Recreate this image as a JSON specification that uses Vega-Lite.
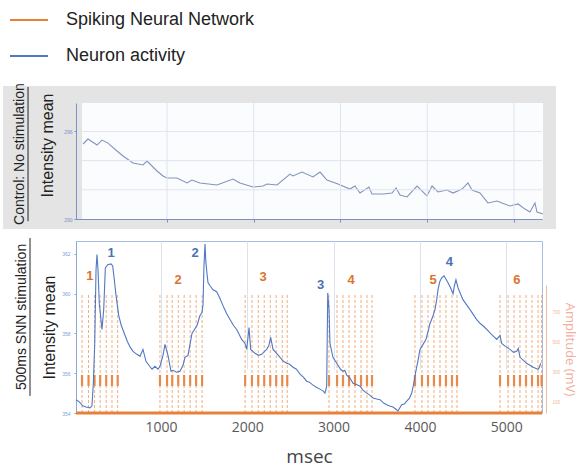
{
  "$schema": "https://vega.github.io/schema/vega-lite/v6.json",
  "padding": {"left": 3, "top": 0, "right": 8, "bottom": 0},
  "spacing": 7,
  "config": {"font": "Liberation Sans", "view": {"stroke": null}},
  "datasets": {
    "control": [
      {"t":32,"v":295.14},{"t":89,"v":295.48},{"t":193,"v":295.07},{"t":251,"v":295.41},{"t":320,"v":295.2},{"t":424,"v":294.66},{"t":493,"v":294.32},{"t":608,"v":293.84},{"t":723,"v":293.7},{"t":770,"v":293.97},{"t":885,"v":293.29},{"t":954,"v":292.95},{"t":1000,"v":292.81},{"t":1115,"v":292.81},{"t":1231,"v":292.47},{"t":1288,"v":292.67},{"t":1380,"v":292.47},{"t":1576,"v":292.33},{"t":1761,"v":292.74},{"t":1841,"v":292.47},{"t":1991,"v":292.19},{"t":2107,"v":292.26},{"t":2153,"v":292.4},{"t":2268,"v":292.33},{"t":2418,"v":293.08},{"t":2452,"v":292.95},{"t":2556,"v":293.22},{"t":2683,"v":292.88},{"t":2764,"v":293.22},{"t":2844,"v":292.67},{"t":2971,"v":292.4},{"t":3109,"v":292.05},{"t":3167,"v":292.26},{"t":3225,"v":291.78},{"t":3328,"v":292.19},{"t":3363,"v":291.71},{"t":3490,"v":291.71},{"t":3594,"v":291.78},{"t":3640,"v":292.12},{"t":3686,"v":291.64},{"t":3767,"v":291.51},{"t":3882,"v":292.26},{"t":3997,"v":291.58},{"t":4055,"v":292.26},{"t":4124,"v":291.85},{"t":4228,"v":291.99},{"t":4297,"v":291.78},{"t":4401,"v":292.05},{"t":4470,"v":292.47},{"t":4516,"v":291.99},{"t":4608,"v":291.78},{"t":4700,"v":291.1},{"t":4804,"v":291.23},{"t":4862,"v":291.1},{"t":4954,"v":290.89},{"t":5046,"v":291.03},{"t":5127,"v":290.68},{"t":5184,"v":290.48},{"t":5242,"v":291.1},{"t":5265,"v":290.48},{"t":5334,"v":290.34}
    ],
    "ctrlGridX": [{"t":1000},{"t":2000},{"t":3000},{"t":4000},{"t":5000}],
    "ctrlGridY": [{"v":292},{"v":294},{"v":296}],
    "activity": [
      {"t":15,"v":354.67},{"t":53,"v":354.56},{"t":93,"v":354.36},{"t":131,"v":354.3},{"t":177,"v":354.26},{"t":200,"v":354.36},{"t":216,"v":355.5},{"t":232,"v":357.5},{"t":247,"v":361.2},{"t":258,"v":361.97},{"t":270,"v":361.2},{"t":285,"v":359.5},{"t":316,"v":358.2},{"t":336,"v":359.2},{"t":355,"v":361.3},{"t":382,"v":361.46},{"t":421,"v":361.5},{"t":440,"v":361.4},{"t":459,"v":360.7},{"t":479,"v":359.9},{"t":510,"v":358.9},{"t":540,"v":358.4},{"t":575,"v":358.0},{"t":610,"v":357.6},{"t":645,"v":357.3},{"t":676,"v":357.1},{"t":720,"v":356.95},{"t":757,"v":356.85},{"t":791,"v":357.2},{"t":826,"v":356.6},{"t":860,"v":356.4},{"t":896,"v":356.2},{"t":930,"v":356.35},{"t":965,"v":356.2},{"t":988,"v":356.35},{"t":1023,"v":356.9},{"t":1046,"v":357.45},{"t":1081,"v":356.9},{"t":1116,"v":356.1},{"t":1139,"v":356.15},{"t":1180,"v":356.05},{"t":1220,"v":356.1},{"t":1255,"v":356.4},{"t":1278,"v":356.8},{"t":1313,"v":356.9},{"t":1359,"v":358.0},{"t":1417,"v":358.4},{"t":1452,"v":358.9},{"t":1475,"v":359.05},{"t":1487,"v":359.45},{"t":1498,"v":361.4},{"t":1510,"v":362.5},{"t":1520,"v":361.6},{"t":1533,"v":361.0},{"t":1545,"v":360.55},{"t":1568,"v":360.4},{"t":1603,"v":360.2},{"t":1645,"v":360.1},{"t":1680,"v":359.8},{"t":1718,"v":359.4},{"t":1760,"v":359.0},{"t":1800,"v":358.7},{"t":1840,"v":358.4},{"t":1877,"v":358.2},{"t":1935,"v":357.7},{"t":1973,"v":357.5},{"t":1993,"v":357.2},{"t":2020,"v":358.3},{"t":2039,"v":357.2},{"t":2089,"v":357.0},{"t":2130,"v":356.9},{"t":2167,"v":356.95},{"t":2200,"v":357.1},{"t":2225,"v":357.2},{"t":2250,"v":357.4},{"t":2271,"v":357.8},{"t":2298,"v":357.2},{"t":2340,"v":357.0},{"t":2379,"v":356.8},{"t":2420,"v":356.6},{"t":2457,"v":356.5},{"t":2490,"v":356.45},{"t":2530,"v":356.3},{"t":2570,"v":356.2},{"t":2611,"v":355.95},{"t":2650,"v":355.8},{"t":2688,"v":355.6},{"t":2720,"v":355.55},{"t":2761,"v":355.4},{"t":2800,"v":355.3},{"t":2842,"v":355.2},{"t":2880,"v":355.1},{"t":2900,"v":355.0},{"t":2920,"v":355.35},{"t":2932,"v":360.04},{"t":2940,"v":359.6},{"t":2947,"v":359.2},{"t":2958,"v":357.5},{"t":2993,"v":356.8},{"t":3051,"v":356.4},{"t":3080,"v":356.2},{"t":3109,"v":356.1},{"t":3130,"v":356.15},{"t":3152,"v":355.9},{"t":3190,"v":355.75},{"t":3225,"v":355.5},{"t":3260,"v":355.45},{"t":3306,"v":355.35},{"t":3340,"v":355.15},{"t":3384,"v":355.0},{"t":3420,"v":354.9},{"t":3457,"v":354.75},{"t":3500,"v":354.7},{"t":3538,"v":354.67},{"t":3580,"v":354.5},{"t":3615,"v":354.42},{"t":3650,"v":354.35},{"t":3688,"v":354.3},{"t":3720,"v":354.2},{"t":3746,"v":354.1},{"t":3789,"v":354.42},{"t":3820,"v":354.45},{"t":3847,"v":354.6},{"t":3880,"v":354.75},{"t":3905,"v":355.0},{"t":3925,"v":355.4},{"t":3943,"v":355.85},{"t":3962,"v":356.3},{"t":3981,"v":356.7},{"t":4001,"v":357.2},{"t":4030,"v":357.4},{"t":4070,"v":357.7},{"t":4095,"v":358.1},{"t":4117,"v":358.5},{"t":4145,"v":358.8},{"t":4175,"v":359.2},{"t":4195,"v":359.7},{"t":4210,"v":360.2},{"t":4230,"v":360.6},{"t":4253,"v":360.8},{"t":4279,"v":360.9},{"t":4300,"v":360.75},{"t":4326,"v":360.55},{"t":4355,"v":360.3},{"t":4384,"v":360.0},{"t":4400,"v":360.4},{"t":4418,"v":360.7},{"t":4442,"v":360.3},{"t":4470,"v":360.0},{"t":4499,"v":359.7},{"t":4540,"v":359.45},{"t":4581,"v":359.2},{"t":4620,"v":358.95},{"t":4658,"v":358.7},{"t":4700,"v":358.5},{"t":4740,"v":358.35},{"t":4774,"v":358.2},{"t":4830,"v":357.95},{"t":4890,"v":357.7},{"t":4928,"v":357.9},{"t":4948,"v":357.5},{"t":4990,"v":357.35},{"t":5044,"v":357.2},{"t":5085,"v":357.05},{"t":5122,"v":357.1},{"t":5140,"v":357.25},{"t":5160,"v":356.8},{"t":5200,"v":356.65},{"t":5237,"v":356.5},{"t":5275,"v":356.4},{"t":5311,"v":356.3},{"t":5340,"v":356.25},{"t":5369,"v":356.2},{"t":5385,"v":356.3},{"t":5400,"v":356.5}
    ],
    "spikes": [
      {"train":1,"t":85},{"train":1,"t":160},{"train":1,"t":230},{"train":1,"t":295},{"train":1,"t":365},{"train":1,"t":432},{"train":1,"t":498},
      {"train":2,"t":988},{"train":2,"t":1070},{"train":2,"t":1130},{"train":2,"t":1200},{"train":2,"t":1268},{"train":2,"t":1338},{"train":2,"t":1407},{"train":2,"t":1476},
      {"train":3,"t":1975},{"train":3,"t":2054},{"train":3,"t":2127},{"train":3,"t":2196},{"train":3,"t":2266},{"train":3,"t":2335},{"train":3,"t":2405},{"train":3,"t":2463},
      {"train":4,"t":2947},{"train":4,"t":3040},{"train":4,"t":3109},{"train":4,"t":3179},{"train":4,"t":3248},{"train":4,"t":3318},{"train":4,"t":3387},{"train":4,"t":3445},
      {"train":5,"t":3943},{"train":5,"t":4024},{"train":5,"t":4094},{"train":5,"t":4163},{"train":5,"t":4233},{"train":5,"t":4302},{"train":5,"t":4372},{"train":5,"t":4430},
      {"train":6,"t":4929},{"train":6,"t":5022},{"train":6,"t":5091},{"train":6,"t":5160},{"train":6,"t":5230},{"train":6,"t":5299},{"train":6,"t":5369},{"train":6,"t":5410}
    ],
    "baseline": [{"series":"Spiking Neural Network","amp":30}],
    "trainLabels": [
      {"label":"1","t":177,"v":360.9},{"label":"2","t":1197,"v":360.7},{"label":"3","t":2182,"v":360.85},{"label":"4","t":3202,"v":360.7},{"label":"5","t":4152,"v":360.7},{"label":"6","t":5125,"v":360.7}
    ],
    "peakLabels": [
      {"label":"1","t":421,"v":362.05},{"label":"2","t":1394,"v":362.05},{"label":"3","t":2850,"v":360.46},{"label":"4","t":4342,"v":361.6}
    ]
  },
  "vconcat": [
    {
      "width": 466,
      "height": 116,
      "view": {"fill": "#FBFCFE", "stroke": null},
      "layer": [
        {
          "data": {"name": "control"},
          "mark": {"type": "line", "color": "#8393BE", "strokeWidth": 1.1},
          "encoding": {
            "x": {"field": "t", "type": "quantitative", "scale": {"domain": [-49, 5323], "nice": false, "zero": false},
                  "axis": {"zindex": 1, "grid": false, "values": [1000,2000,3000,4000,5000], "labels": false, "ticks": true, "tickSize": 3, "tickColor": "#7D8FC8", "domainColor": "#7D8FC8", "title": null}},
            "y": {"field": "v", "type": "quantitative", "scale": {"domain": [290, 297.95], "nice": false, "zero": false},
                  "axis": {"zindex": 1, "grid": false, "values": [290,292,294,296], "labelOverlap": false, "labelFontSize": 5, "labelColor": "#7D8FC8", "domainColor": "#7D8FC8", "tickColor": "#7D8FC8", "tickSize": 2, "labelPadding": 2, "title": "Intensity mean", "titleFontSize": 16, "titleFontWeight": "normal", "titleColor": "#222222", "titlePadding": 8, "titleY": 42}}
          }
        },
        {
          "data": {"name": "ctrlGridX"},
          "mark": {"type": "rule", "color": "#DFE4EE", "strokeWidth": 1},
          "encoding": {"x": {"field": "t", "type": "quantitative"}}
        },
        {
          "data": {"name": "ctrlGridY"},
          "mark": {"type": "rule", "color": "#DFE4EE", "strokeWidth": 1},
          "encoding": {"y": {"field": "v", "type": "quantitative"}}
        },
        {
          "data": {"values": [{}]},
          "mark": {"type": "rect", "clip": false, "color": "#E4E4E4"},
          "encoding": {
            "x": {"datum": -890, "type": "quantitative"},
            "x2": {"datum": 20},
            "y": {"datum": 289.31, "type": "quantitative"},
            "y2": {"datum": 299.12}
          }
        },
        {
          "data": {"values": [{}]},
          "mark": {"type": "rect", "clip": false, "color": "#E4E4E4"},
          "encoding": {
            "x": {"datum": 5334, "type": "quantitative"},
            "x2": {"datum": 5484},
            "y": {"datum": 289.31, "type": "quantitative"},
            "y2": {"datum": 299.12}
          }
        },
        {
          "data": {"values": [{}]},
          "mark": {"type": "rect", "clip": false, "color": "#E4E4E4"},
          "encoding": {
            "x": {"datum": 20, "type": "quantitative"},
            "x2": {"datum": 5334},
            "y": {"datum": 297.95, "type": "quantitative"},
            "y2": {"datum": 299.12}
          }
        },
        {
          "data": {"values": [{}]},
          "mark": {"type": "rect", "clip": false, "color": "#E4E4E4"},
          "encoding": {
            "x": {"datum": 20, "type": "quantitative"},
            "x2": {"datum": 5334},
            "y": {"datum": 289.31, "type": "quantitative"},
            "y2": {"datum": 290}
          }
        },
        {
          "data": {"values": [{}]},
          "mark": {"type": "text", "clip": false, "angle": 270, "fontSize": 14, "color": "#222222", "align": "center", "baseline": "middle"},
          "encoding": {
            "x": {"datum": -695, "type": "quantitative"},
            "y": {"datum": 294.45, "type": "quantitative"},
            "text": {"value": "Control: No stimulation"}
          }
        },
        {
          "data": {"values": [{}]},
          "mark": {"type": "rule", "clip": false, "color": "#222222", "strokeWidth": 1},
          "encoding": {
            "x": {"datum": -602, "type": "quantitative"},
            "y": {"datum": 289.85, "type": "quantitative"},
            "y2": {"datum": 299.05}
          }
        }
      ]
    },
    {
      "width": 466,
      "height": 172,
      "view": {"stroke": "#A9BCE0", "strokeWidth": 1},
      "layer": [
        {
          "layer": [
            {
              "data": {"name": "spikes"},
              "mark": {"type": "rule", "color": "#EFA067", "strokeWidth": 1, "strokeDash": [3, 2], "opacity": 0.85},
              "encoding": {
                "x": {"field": "t", "type": "quantitative"},
                "y": {"datum": 30, "type": "quantitative",
                      "scale": {"domain": [30, 885], "range": [172, 44], "nice": false, "zero": false},
                      "axis": {"orient": "right", "offset": 4, "values": [100,200,300,400,500,600,700,800], "labelFontSize": 4.5, "labelColor": "#F2B595", "ticks": false, "labelPadding": 6, "domainColor": "#F3B894", "grid": false, "title": "Amplitude (mV)", "titleFontSize": 13, "titleFont": "Open Sans", "titleFontWeight": "normal", "titleColor": "#F4AE9E", "titlePadding": 3}},
                "y2": {"datum": 818}
              }
            },
            {
              "data": {"name": "spikes"},
              "mark": {"type": "rule", "color": "#E8803A", "strokeWidth": 2.2, "opacity": 0.9},
              "encoding": {
                "x": {"field": "t", "type": "quantitative"},
                "y": {"datum": 210, "type": "quantitative"},
                "y2": {"datum": 284}
              }
            },
            {
              "data": {"name": "baseline"},
              "mark": {"type": "rule", "strokeWidth": 3},
              "encoding": {
                "y": {"field": "amp", "type": "quantitative"},
                "color": {"field": "series", "type": "nominal",
                          "scale": {"domain": ["Spiking Neural Network", "Neuron activity"], "range": ["#E8803A", "#5078C4"]},
                          "legend": {"orient": "none", "legendX": -67, "legendY": -103, "direction": "vertical", "title": null, "symbolType": "stroke", "symbolSize": 1444, "symbolStrokeWidth": 2, "labelFontSize": 18, "labelFont": "Liberation Sans", "labelColor": "#222222", "labelOffset": 17, "labelLimit": 0, "rowPadding": 7, "padding": 0}}
              }
            }
          ]
        },
        {
          "layer": [
            {
              "data": {"name": "activity"},
              "mark": {"type": "line", "strokeWidth": 1.1},
              "encoding": {
                "x": {"field": "t", "type": "quantitative",
                      "scale": {"domain": [15, 5415], "nice": false, "zero": false},
                      "axis": {"values": [1000,2000,3000,4000,5000], "format": "d", "labelFontSize": 14, "labelColor": "#595959", "labelFont": "Open Sans", "labelPadding": 7, "ticks": false, "domain": false, "gridColor": "#DCE3EF", "title": "msec", "titleFontSize": 19, "titleFont": "Open Sans", "titleFontWeight": "normal", "titleColor": "#444444", "titlePadding": 13}},
                "y": {"field": "v", "type": "quantitative",
                      "scale": {"domain": [354, 362.65], "nice": false, "zero": false},
                      "axis": {"orient": "left", "values": [354,356,358,360,362], "labelOverlap": false, "labelFontSize": 5, "labelColor": "#7F9FD6", "labelPadding": 4, "domainColor": "#8AA8DA", "tickColor": "#8AA8DA", "tickSize": 2, "gridColor": "#DCE3EF", "title": "Intensity mean", "titleFontSize": 16, "titleFontWeight": "normal", "titleColor": "#222222", "titlePadding": 4}},
                "color": {"field": "series", "type": "nominal"}
              },
              "transform": [{"calculate": "'Neuron activity'", "as": "series"}]
            },
            {
              "data": {"name": "trainLabels"},
              "mark": {"type": "text", "fontSize": 13, "fontWeight": "bold", "color": "#DA7530"},
              "encoding": {
                "x": {"field": "t", "type": "quantitative"},
                "y": {"field": "v", "type": "quantitative"},
                "text": {"field": "label"}
              }
            },
            {
              "data": {"name": "peakLabels"},
              "mark": {"type": "text", "fontSize": 13, "fontWeight": "bold", "color": "#4A72B8"},
              "encoding": {
                "x": {"field": "t", "type": "quantitative"},
                "y": {"field": "v", "type": "quantitative"},
                "text": {"field": "label"}
              }
            },
            {
              "data": {"values": [{}]},
              "mark": {"type": "text", "clip": false, "angle": 270, "fontSize": 14, "color": "#222222", "align": "center", "baseline": "middle"},
              "encoding": {
                "x": {"datum": -611, "type": "quantitative"},
                "y": {"datum": 358.83, "type": "quantitative"},
                "text": {"value": "500ms SNN stimulation"}
              }
            },
            {
              "data": {"values": [{}]},
              "mark": {"type": "rule", "clip": false, "color": "#222222", "strokeWidth": 1},
              "encoding": {
                "x": {"datum": -518, "type": "quantitative"},
                "y": {"datum": 354.86, "type": "quantitative"},
                "y2": {"datum": 362.8}
              }
            }
          ]
        }
      ],
      "resolve": {"scale": {"y": "independent"}}
    }
  ]
}
